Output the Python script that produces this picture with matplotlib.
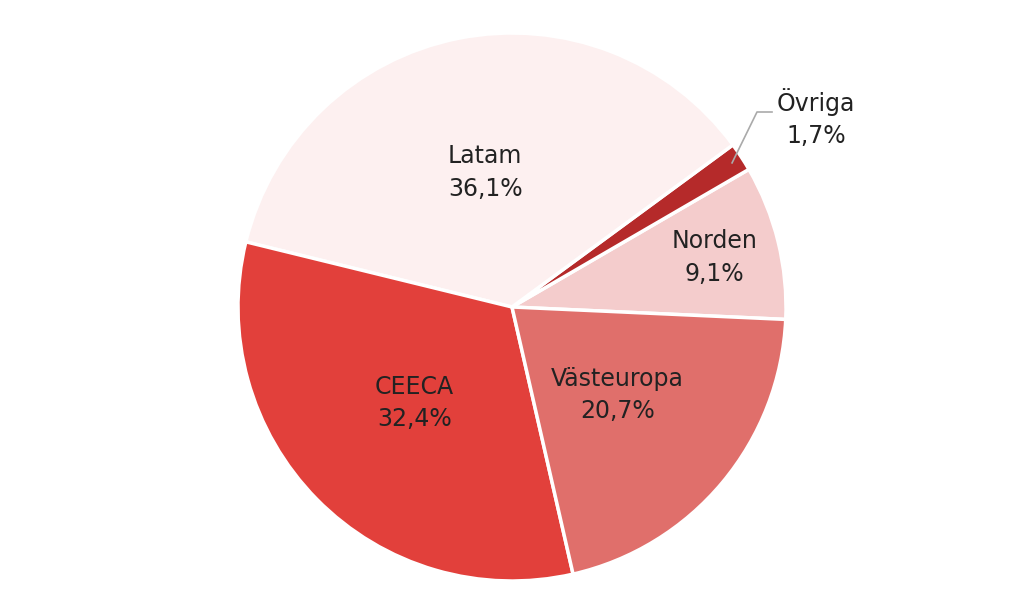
import numpy as np
import matplotlib.pyplot as plt

# Dane
regioner = ["Norden", "Övriga", "Latam", "CEECA", "Västeuropa"]
andelar = [9.1, 1.7, 36.1, 32.4, 20.7]
farger = ["#f4cccc", "#b52a2a", "#fdf0f0", "#e2403b", "#e06f6b"]
etikett_avstand = [0.76, None, 0.5, 0.5, 0.5]

fig = plt.figure(figsize=(10.24, 6.14), dpi=100)
ax = fig.add_axes([0, 0, 1, 1])

cx, cy, r = 512, 307, 274
wedges, _ = ax.pie(andelar, colors=farger, startangle=-2.6, counterclock=True,
                   center=(cx, cy), radius=r, frame=True,
                   wedgeprops=dict(edgecolor="white", linewidth=2.5))
ax.set_xlim(0, 1024)
ax.set_ylim(0, 614)
ax.set_aspect("equal")
ax.axis("off")

def fmt(v):
    return f"{v:.1f}%".replace(".", ",")

textstil = dict(ha="center", va="center", fontsize=17, color="#222222",
                family="DejaVu Sans", linespacing=1.45)

for w, namn, v, d in zip(wedges, regioner, andelar, etikett_avstand):
    vinkel = np.deg2rad((w.theta1 + w.theta2) / 2)
    if d is None:
        # Övriga: etikett utanför med linje
        x0 = cx + r * 0.96 * np.cos(vinkel)
        y0 = cy + r * 0.96 * np.sin(vinkel)
        ax.plot([x0, 757, 772], [y0, 614 - 112, 614 - 112], color="#aaaaaa", lw=1.2)
        ax.text(816, 614 - 118, f"{namn}\n{fmt(v)}", **textstil)
        continue
    x = cx + r * d * np.cos(vinkel)
    y = cy + r * d * np.sin(vinkel)
    ax.text(x, y, f"{namn}\n{fmt(v)}", **textstil)

fig.savefig("out.png", dpi=100)
